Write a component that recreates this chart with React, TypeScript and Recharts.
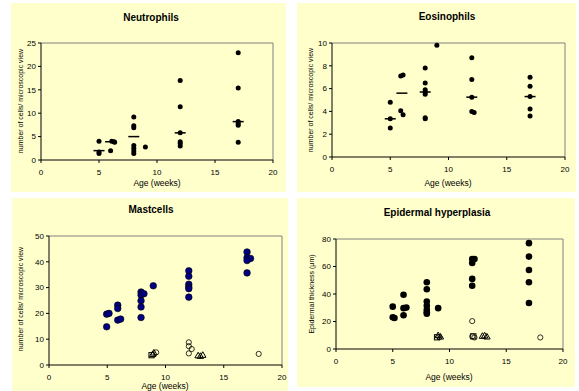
import { ScatterChart, Scatter, XAxis, YAxis, ReferenceLine } from 'recharts';

type Pt = [number, number];

const AGE_TICKS = [0, 5, 10, 15, 20];

// Neutrophils
const neutDots: Pt[] = [
  [5, 4.0], [5, 1.7], [5, 1.4], [6, 2.0], [6.1, 4.0], [6.3, 3.9], [6.35, 3.8],
  [8, 9.2], [8, 7.3], [8, 6.9], [8, 3.1], [8, 2.5], [8, 1.9], [8, 1.4], [9, 2.8],
  [12, 17.0], [12, 11.4], [12, 5.8], [12, 3.9], [12, 3.5], [12, 3.0],
  [17, 22.9], [17, 15.4], [17, 8.2], [17, 7.8], [17, 7.4], [17, 3.8],
];
const neutMedians: Pt[] = [[5, 2.0], [6, 3.9], [8, 5.0], [12, 5.8], [17, 8.2]];
const neutTicks = [0, 5, 10, 15, 20, 25];

// Eosinophils
const eosDots: Pt[] = [
  [5, 4.8], [5, 3.35], [5, 2.55], [5.9, 7.1], [6.1, 7.2], [5.9, 4.05], [6.1, 3.7],
  [8, 7.8], [8, 6.5], [8, 5.9], [8, 5.7], [8, 5.5], [8, 3.45], [8, 3.35], [9, 9.8],
  [12, 8.7], [12, 6.8], [12, 5.25], [12, 4.0], [12.2, 3.9],
  [17, 7.0], [17, 6.2], [17, 5.3], [17, 4.2], [17, 3.6],
];
const eosMedians: Pt[] = [[5, 3.35], [6, 5.6], [8, 5.7], [12, 5.25], [17, 5.3]];
const eosTicks = [0, 2, 4, 6, 8, 10];

// Mastcells
const mastFilled: Pt[] = [
  [4.95, 19.7], [5.15, 20.0], [4.95, 14.8], [5.9, 23.2], [5.9, 21.9], [5.9, 17.4], [6.15, 17.8],
  [7.9, 28.3], [7.9, 27.1], [8.15, 27.6], [7.9, 24.9], [7.9, 22.5], [7.9, 18.4], [8.95, 30.7],
  [12, 36.5], [12, 34.4], [12, 31.3], [12, 30.2], [12, 29.6], [12, 26.3],
  [17, 43.8], [17, 41.6], [17.3, 41.3], [17, 40.5], [17, 35.7],
];
const mastOpen: Pt[] = [[9.2, 4.9], [12, 8.8], [12, 7.3], [12.25, 6.2], [12, 4.5], [18, 4.3]];
const mastTri: Pt[] = [[8.9, 4.2], [9.0, 4.8], [12.8, 3.7], [13.0, 3.5], [13.2, 3.9]];
const mastSquare: Pt[] = [[8.8, 3.8]];
const mastTicks = [0, 10, 20, 30, 40, 50];

// Epidermal hyperplasia
const epiFilled: Pt[] = [
  [5, 30.8], [5, 23.1], [5.15, 22.6], [5.95, 39.4], [5.95, 29.7], [6.2, 30.1], [5.95, 24.6],
  [8, 48.6], [8, 43.5], [8, 34.5], [8, 31.4], [8, 28.5], [8, 26.8], [8, 25.6], [9, 29.7],
  [12, 65.5], [12.2, 65.5], [12, 62.5], [12, 51], [12, 46],
  [17, 77], [17, 67.2], [17, 57.5], [17, 48.5], [17, 33.5],
];
const epiOpen: Pt[] = [[9.1, 8.6], [12, 20.3], [12, 9.2], [12.2, 8.4], [18, 8.4]];
const epiTri: Pt[] = [[9.0, 10], [9.2, 9.0], [12.9, 9.5], [13.1, 9.8], [13.3, 9.0]];
const epiSquare: Pt[] = [[8.9, 8.5], [12.1, 9.2]];
const epiTicks = [0, 20, 40, 60, 80];

const FONT = 'Liberation Sans, Arial, Helvetica, sans-serif';
const toData = (pts: Pt[]) => pts.map(([x, y]) => ({ x, y }));

const dot = (r: number, fill: string, stroke = 'none') => (p: any) => (
  <circle cx={p.cx} cy={p.cy} r={r} fill={fill} stroke={stroke} strokeWidth={0.6} />
);
const ring = (p: any) => (
  <circle cx={p.cx} cy={p.cy} r={2.6} fill="none" stroke="#000" strokeWidth={0.8} />
);
const tri = (p: any) => (
  <path
    d={`M${p.cx},${p.cy - 3.2} L${p.cx + 3.2},${p.cy + 2.4} L${p.cx - 3.2},${p.cy + 2.4} Z`}
    fill="none"
    stroke="#000"
    strokeWidth={1}
  />
);
const square = (p: any) => (
  <rect x={p.cx - 2.6} y={p.cy - 2.6} width={5.2} height={5.2} fill="none" stroke="#000" strokeWidth={1} />
);
const dash = (p: any) => (
  <line x1={p.cx - 5.5} x2={p.cx + 5.5} y1={p.cy} y2={p.cy} stroke="#000" strokeWidth={1.5} />
);

interface SeriesDef {
  data: Pt[];
  shape: (p: any) => JSX.Element;
}

interface PanelProps {
  box: [number, number, number, number]; // left, top, right, bottom
  plot: [number, number, number, number];
  yMax: number;
  yTicks: number[];
  series: SeriesDef[];
  title: string;
  titlePos: [number, number];
  yLabel: string;
  yLabelPos: [number, number];
  xLabelPos: [number, number];
}

function Centered({ x, y, rotate, style, children }: any) {
  return (
    <div
      style={{
        position: 'absolute',
        left: x,
        top: y,
        transform: `translate(-50%, -50%)${rotate ? ' rotate(-90deg)' : ''}`,
        whiteSpace: 'nowrap',
        fontFamily: FONT,
        color: '#000',
        lineHeight: 1,
        ...style,
      }}
    >
      {children}
    </div>
  );
}

function Panel(props: PanelProps) {
  const [bl, bt, br, bb] = props.box;
  const [pl, pt, pr, pb] = props.plot;
  const w = br - bl;
  const h = bb - bt;
  return (
    <>
      <div style={{ position: 'absolute', left: bl, top: bt, width: w, height: h, background: '#FFFFCC' }}>
        <ScatterChart
          width={w}
          height={h}
          margin={{ top: pt - bt, right: br - pr, bottom: 0, left: 0 }}
        >
          <XAxis
            type="number"
            dataKey="x"
            domain={[0, 20]}
            ticks={AGE_TICKS}
            interval={0}
            height={bb - pb}
            tickSize={3}
            tickMargin={6}
            stroke="#000"
            tick={{ fill: '#000', fontSize: 8, fontFamily: FONT }}
          />
          <YAxis
            type="number"
            dataKey="y"
            domain={[0, props.yMax]}
            ticks={props.yTicks}
            interval={0}
            width={pl - bl}
            tickSize={3}
            tickMargin={2}
            stroke="#000"
            tick={{ fill: '#000', fontSize: 8, fontFamily: FONT }}
          />
          <ReferenceLine y={props.yMax} stroke="#808080" strokeWidth={1} />
          <ReferenceLine x={20} stroke="#808080" strokeWidth={1} />
          {props.series.map((s, i) => (
            <Scatter key={i} data={toData(s.data)} shape={s.shape} isAnimationActive={false} />
          ))}
        </ScatterChart>
      </div>
      <Centered x={props.titlePos[0]} y={props.titlePos[1]} style={{ fontSize: 10, fontWeight: 'bold' }}>
        {props.title}
      </Centered>
      <Centered x={props.yLabelPos[0]} y={props.yLabelPos[1]} rotate style={{ fontSize: 7 }}>
        {props.yLabel}
      </Centered>
      <Centered x={props.xLabelPos[0]} y={props.xLabelPos[1]} style={{ fontSize: 8.5 }}>
        Age (weeks)
      </Centered>
    </>
  );
}

export default function App() {
  return (
    <div
      style={{
        position: 'absolute',
        left: 0,
        top: 0,
        width: 579,
        height: 391,
        overflow: 'hidden',
        background: '#fff',
      }}
    >
      <Panel
        box={[11, 3, 286, 192]}
        plot={[41, 43, 273, 160]}
        yMax={25}
        yTicks={neutTicks}
        series={[
          { data: neutDots, shape: dot(2.5, '#000') },
          { data: neutMedians, shape: dash },
        ]}
        title="Neutrophils"
        titlePos={[151, 18]}
        yLabel="number of cells/ microscopic view"
        yLabelPos={[20, 101]}
        xLabelPos={[157, 183]}
      />
      <Panel
        box={[297, 3, 576, 192]}
        plot={[332, 43, 565, 157]}
        yMax={10}
        yTicks={eosTicks}
        series={[
          { data: eosDots, shape: dot(2.5, '#000') },
          { data: eosMedians, shape: dash },
        ]}
        title="Eosinophils"
        titlePos={[447, 17]}
        yLabel="number of cells/ microscopic view"
        yLabelPos={[310, 100]}
        xLabelPos={[448, 183]}
      />
      <Panel
        box={[12, 198, 288, 395]}
        plot={[49, 236, 282, 365]}
        yMax={50}
        yTicks={mastTicks}
        series={[
          { data: mastFilled, shape: dot(3.3, '#000080', '#000') },
          { data: mastOpen, shape: ring },
          { data: mastTri, shape: tri },
          { data: mastSquare, shape: square },
        ]}
        title="Mastcells"
        titlePos={[151, 210]}
        yLabel="number of cells/ microscopic view"
        yLabelPos={[20, 299]}
        xLabelPos={[165, 386]}
      />
      <Panel
        box={[297, 198, 575, 387]}
        plot={[336, 239, 563, 349]}
        yMax={80}
        yTicks={epiTicks}
        series={[
          { data: epiFilled, shape: dot(3.3, '#000') },
          { data: epiOpen, shape: ring },
          { data: epiTri, shape: tri },
          { data: epiSquare, shape: square },
        ]}
        title="Epidermal hyperplasia"
        titlePos={[437, 213]}
        yLabel="Epidermal thickness (µm)"
        yLabelPos={[311, 294]}
        xLabelPos={[449, 377]}
      />
    </div>
  );
}
